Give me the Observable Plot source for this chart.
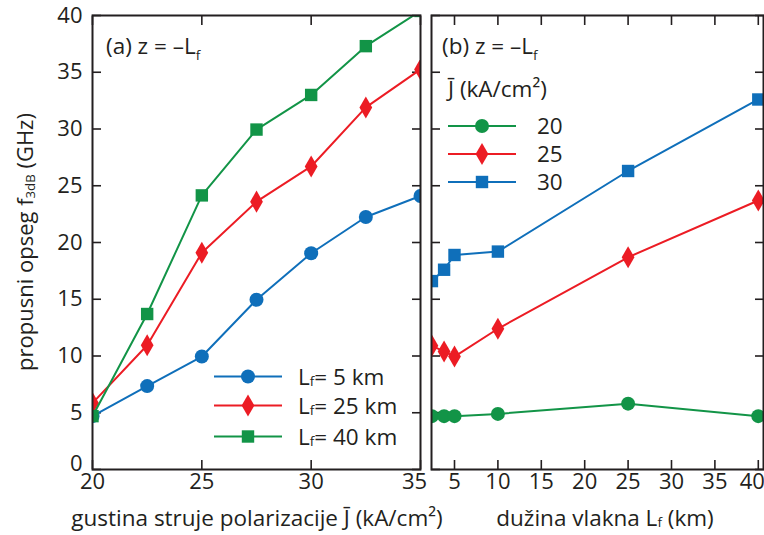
<!DOCTYPE html>
<html>
<head>
<meta charset="utf-8">
<script src="https://cdn.jsdelivr.net/npm/d3@7"></script>
<script src="https://cdn.jsdelivr.net/npm/@observablehq/plot@0.6"></script>
<style>
  body { margin: 0; background: #fff; }
  #chart { position: relative; width: 764px; height: 535px; overflow: hidden; }
  #chart svg { position: absolute; top: 0; }
</style>
</head>
<body>
<div id="chart"></div>
<script>
// Panel (a): bandwidth vs. bias current density for three fiber lengths
const currentJ = [20, 22.5, 25, 27.5, 30, 32.5, 35];
const bw5km  = [4.7, 7.35, 9.95, 14.95, 19.05, 22.25, 24.1];
const bw25km = [5.85, 10.95, 19.1, 23.6, 26.7, 31.9, 35.25];
const bw40km = [4.7, 13.7, 24.15, 29.95, 33.0, 37.3, 40.4];

// Panel (b): bandwidth vs. fiber length for three bias current densities
const fiberLen = [2.4, 3.8, 5, 10, 25, 40];
const bwJ20 = [4.7, 4.7, 4.7, 4.9, 5.8, 4.7];
const bwJ25 = [10.9, 10.4, 9.95, 12.4, 18.7, 23.7];
const bwJ30 = [16.6, 17.6, 18.9, 19.2, 26.3, 32.6];

// Tick values
const yTicks = [0, 5, 10, 15, 20, 25, 30, 35, 40];
const jTicks = [20, 25, 30, 35];
const lenTicks = [5, 10, 15, 20, 25, 30, 35, 40];

const ink = "#231f20";
const blue = "#0f6fba";
const red = "#ec1c24";
const green = "#129447";
const font = "'Open Sans', sans-serif";
const fs = 22.5;

// Text with optional subscript pieces: parts are strings or [string, "sub"]
function richText(x, y, parts, {size = fs, anchor = "start", rotate = 0, subShift = 2, subScale = 0.6} = {}) {
  const t = d3.create("svg:text")
    .attr("font-size", size)
    .attr("fill", ink)
    .attr("text-anchor", anchor)
    .attr("transform", `translate(${x},${y})` + (rotate ? ` rotate(${rotate})` : ""));
  let shift = 0;
  for (const p of parts) {
    const [s, kind] = typeof p === "string" ? [p, null] : p;
    const span = t.append("tspan").text(s);
    const target = kind === "sub" ? subShift : 0;
    if (target !== shift) { span.attr("dy", target - shift); shift = target; }
    if (kind === "sub") span.attr("font-size", size * subScale);
  }
  return t.node();
}

const symbolOf = {circle: d3.symbolCircle, diamond: d3.symbolDiamond, square: d3.symbolSquare};

// Legend drawn relative to the panel frame
function legendMark(entries, {dx, dy, step, len = 68, labelDx, textDy = 8}) {
  return (index, scales, values, dims) => {
    const g = d3.create("svg:g");
    const x0 = dims.marginLeft + dx;
    let y = dims.marginTop + dy;
    entries.forEach((e, i) => {
      y += step[i];
      g.append("line")
        .attr("x1", x0).attr("x2", x0 + len)
        .attr("y1", y).attr("y2", y)
        .attr("stroke", e.color).attr("stroke-width", 2);
      g.append("path")
        .attr("transform", `translate(${x0 + len / 2},${y})`)
        .attr("d", d3.symbol(symbolOf[e.symbol], Math.PI * e.r * e.r)())
        .attr("fill", e.color);
      g.append(() => richText(x0 + labelDx, y + textDy, e.label, {subShift: 1}));
    });
    return g.node();
  };
}

function series(x, y, color, symbol, r) {
  const data = x.map((v, i) => ({x: v, y: y[i]}));
  return [
    Plot.line(data, {x: "x", y: "y", stroke: color, strokeWidth: 2, clip: true}),
    Plot.dot(data, {x: "x", y: "y", fill: color, symbol, r, clip: true})
  ];
}

const tickStyle = {tickSize: -9, tickFormat: () => "", label: null, stroke: ink, strokeWidth: 1.6};
const labelStyle = {tickSize: 0, label: null};

const common = {
  height: 535,
  marginTop: 15,
  marginBottom: 66,
  style: {fontFamily: font, fontSize: "22px", color: ink, background: "transparent", overflow: "visible"},
  y: {domain: [0, 40]}
};

const left = Plot.plot({
  ...common,
  width: 421,
  marginLeft: 92,
  marginRight: 1,
  x: {domain: [20, 35]},
  marks: [
    Plot.axisY({anchor: "left", ticks: yTicks.slice(1), tickPadding: 10, ...labelStyle}),
    Plot.axisY({anchor: "left", ticks: yTicks.slice(0, 1), tickPadding: 10, dy: -6, ...labelStyle}),
    Plot.axisY({anchor: "left", ticks: yTicks, ...tickStyle}),
    Plot.axisY({anchor: "right", ticks: yTicks, ...tickStyle}),
    Plot.axisX({anchor: "bottom", ticks: jTicks.slice(0, -1), tickPadding: 4, ...labelStyle}),
    Plot.axisX({anchor: "bottom", ticks: jTicks.slice(-1), tickPadding: 4, dx: -6, ...labelStyle}),
    Plot.axisX({anchor: "bottom", ticks: jTicks, ...tickStyle}),
    Plot.axisX({anchor: "top", ticks: jTicks, ...tickStyle}),
    ...series(currentJ, bw5km, blue, "circle", 7),
    ...series(currentJ, bw25km, red, "diamond", 6.7),
    ...series(currentJ, bw40km, green, "square", 7),
    Plot.frame({stroke: ink, strokeWidth: 2}),
    (index, scales, values, dims) => {
      const g = d3.create("svg:g");
      g.append(() => richText(dims.marginLeft + 14, 54, ["(a) z = \u2013L", ["f", "sub"]], {subShift: 6}));
      g.append(() => richText(33, (dims.marginTop + dims.height - dims.marginBottom) / 2,
        ["propusni opseg f", ["3dB", "sub"], " (GHz)"], {size: 22, anchor: "middle", rotate: -90, subShift: 2}));
      g.append(() => richText(257, 526, ["gustina struje polarizacije J\u0304 (kA/cm\u00b2)"], {anchor: "middle"}));
      return g.node();
    },
    legendMark([
      {label: ["L", ["f", "sub"], "= 5 km"], color: blue, symbol: "circle", r: 7},
      {label: ["L", ["f", "sub"], "= 25 km"], color: red, symbol: "diamond", r: 6.7},
      {label: ["L", ["f", "sub"], "= 40 km"], color: green, symbol: "square", r: 7}
    ], {dx: 122, dy: 0, step: [361.5, 29, 31], labelDx: 84})
  ]
});

const right = Plot.plot({
  ...common,
  width: 343,
  marginLeft: 10,
  marginRight: 1,
  x: {domain: [2.35, 40.6]},
  marks: [
    Plot.axisY({anchor: "left", ticks: yTicks, ...tickStyle}),
    Plot.axisY({anchor: "right", ticks: yTicks, ...tickStyle}),
    Plot.axisX({anchor: "bottom", ticks: lenTicks.slice(0, -1), tickPadding: 4, ...labelStyle}),
    Plot.axisX({anchor: "bottom", ticks: lenTicks.slice(-1), tickPadding: 4, dx: -6, ...labelStyle}),
    Plot.axisX({anchor: "bottom", ticks: lenTicks, ...tickStyle}),
    Plot.axisX({anchor: "top", ticks: lenTicks, ...tickStyle}),
    ...series(fiberLen, bwJ20, green, "circle", 7),
    ...series(fiberLen, bwJ25, red, "diamond", 6.7),
    ...series(fiberLen, bwJ30, blue, "square", 7),
    Plot.frame({stroke: ink, strokeWidth: 2}),
    (index, scales, values, dims) => {
      const g = d3.create("svg:g");
      g.append(() => richText(dims.marginLeft + 11, 54, ["(b) z = \u2013L", ["f", "sub"]], {subShift: 6}));
      g.append(() => richText(dims.marginLeft + 17, 97, ["J\u0304 (kA/cm\u00b2)"]));
      g.append(() => richText(184, 526, ["du\u017eina vlakna L", ["f", "sub"], " (km)"], {anchor: "middle", subShift: 1}));
      return g.node();
    },
    legendMark([
      {label: ["20"], color: green, symbol: "circle", r: 7},
      {label: ["25"], color: red, symbol: "diamond", r: 6.7},
      {label: ["30"], color: blue, symbol: "square", r: 7}
    ], {dx: 17, dy: 0, step: [111, 28, 28], labelDx: 89})
  ]
});

const chart = document.getElementById("chart");
left.style.left = "0px";
right.style.left = "421px";
chart.append(left, right);
</script>
</body>
</html>
